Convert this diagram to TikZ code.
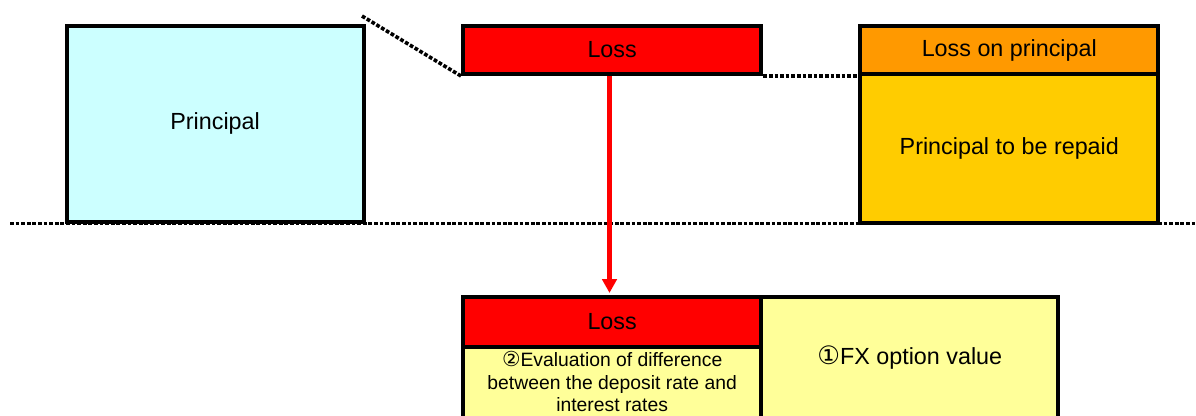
\documentclass[tikz,border=0pt]{standalone}
\usepackage{fontspec}
\setmainfont{Liberation Sans}
\newfontfamily\symfont{DejaVu Sans}
\usetikzlibrary{arrows.meta}

\definecolor{capcyan}{HTML}{CCFFFF}
\definecolor{lossred}{HTML}{FF0000}
\definecolor{lossorange}{HTML}{FF9900}
\definecolor{repaidgold}{HTML}{FFCC00}
\definecolor{paleyellow}{HTML}{FFFF99}

\tikzset{
  box/.style={draw=black, line width=3pt, inner sep=0pt, align=center,
    font=\fontsize{17.5pt}{20pt}\selectfont},
  levelline/.style={line width=2.7pt, dash pattern=on 2.8pt off 1.4pt},
  flow/.style={draw=lossred, line width=3.4pt,
    -{Triangle[width=10.8pt,length=10.5pt]}},
}

\begin{document}
\begin{tikzpicture}[x=0.75pt, y=-0.75pt]
\useasboundingbox (0,0) rectangle (1196,415);
\clip (0,0) rectangle (1196,415);

% ground level under the amounts
\coordinate (levelL) at (10,223.5);
\coordinate (levelR) at (1200,223.5);
\draw[levelline] (levelL) -- (levelR);

% initial principal
\node[box, fill=capcyan, minimum width=297.2*0.75pt, minimum height=196.5*0.75pt]
  (principal) at (215.1,123.75) {Principal};

% loss block
\node[box, fill=lossred, minimum width=298.3*0.75pt, minimum height=48*0.75pt]
  (lossTop) at (612.15,50) {Loss};

% principal after the loss
\node[box, fill=lossorange, minimum width=298*0.75pt, minimum height=48*0.75pt]
  (lossPrin) at (1009.3,50) {Loss on principal};
\node[box, fill=repaidgold, minimum width=298*0.75pt, minimum height=148.5*0.75pt]
  (repaid) at (1009.3,148.25) {Principal to be repaid};

% guide lines for the loss level
\coordinate (slopeStart) at (362,16);
\draw[levelline] (slopeStart) -- (lossTop.south west);
\draw[levelline] (lossTop.south east) -- (lossPrin.south west);

% breakdown of the loss
\node[box, fill=lossred, minimum width=298.3*0.75pt, minimum height=50*0.75pt]
  (lossBot) at (612.15,322) {Loss};
\node[box, fill=paleyellow, minimum width=298.3*0.75pt, minimum height=74*0.75pt]
  (evalBox) at (612.15,384) {};
\node[align=center, inner sep=0pt, font=\fontsize{14.5pt}{16.8pt}\selectfont]
  (evalText) at (612.15,381.5)
  {{\symfont\fontsize{15.5pt}{16.8pt}\selectfont ②}Evaluation of difference\\
   between the deposit rate and\\ interest rates};
\node[box, fill=paleyellow, minimum width=297*0.75pt, minimum height=124*0.75pt,
  text depth=0pt]
  (fx) at (909.8,359) {};
\node[inner sep=0pt, font=\fontsize{17.5pt}{20pt}\selectfont]
  (fxText) at (909.8,357.7) {{\symfont\fontsize{19pt}{20pt}\selectfont ①}FX option value};

% arrow from the loss to its breakdown
\coordinate (arrowX) at (609.5,0);
\draw[flow, shorten >=1.5pt] (lossTop.south -| arrowX) -- (lossBot.north -| arrowX);
\end{tikzpicture}
\end{document}
